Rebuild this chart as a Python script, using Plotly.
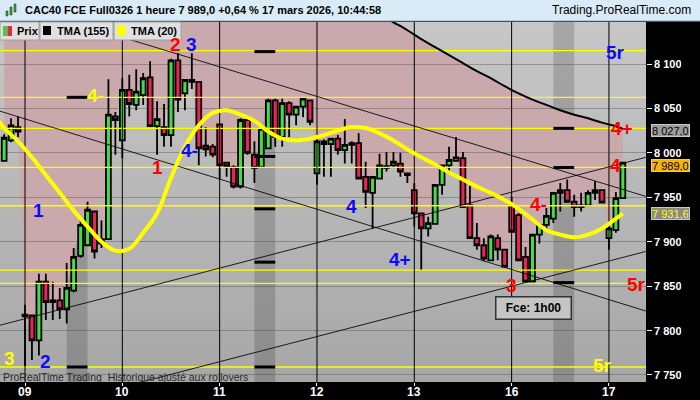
import base64
import plotly.graph_objects as go

FONT = "Liberation Sans, Arial, sans-serif"

# ---------------- data ----------------
day_labels = ["09", "10", "11", "12", "13", "16", "17"]
day_first_bar = [3, 17, 31, 45, 59, 73, 87]

opens = [7991, 8014, 8029,
         7818, 7817, 7789, 7855, 7832, 7834, 7824, 7845, 7884, 7896, 7934, 7898, 7903, 8041,
         8014, 8071, 8054, 8065, 8085, 8030, 8029, 8020, 8104, 8067, 8082, 8080, 8008, 8007,
         8032, 7989, 7984, 7962, 8037, 7998, 7984, 8005, 8059, 8018, 8056, 8043, 8052, 8059,
         7977, 8013, 8010, 8016, 8003, 8009, 8011, 7973, 7955, 7971, 7983, 7986, 7988, 7977,
         7958, 7932, 7915, 7920, 7964, 7986, 7991, 7994, 7941, 7904, 7896, 7879, 7904, 7891,
         7941, 7930, 7883, 7855, 7908, 7919, 7926, 7955, 7958, 7945, 7939, 7941, 7955, 7958,
         7904, 7913, 7949]
highs = [8021, 8039, 8041,
         7829, 7818, 7864, 7864, 7855, 7848, 7876, 7893, 7925, 7945, 7935, 7924, 8083, 8046,
         8084, 8088, 8094, 8090, 8103, 8058, 8055, 8106, 8112, 8083, 8112, 8081, 8029, 8010,
         8033, 7989, 7986, 8039, 8039, 8013, 8028, 8061, 8061, 8061, 8058, 8052, 8061, 8060,
         8020, 8015, 8017, 8020, 8038, 8013, 8022, 7990, 7973, 7999, 8001, 8001, 8000, 7978,
         7966, 7932, 7928, 7965, 7987, 8007, 8018, 8001, 7963, 7921, 7904, 7908, 7908, 7891,
         7951, 7932, 7894, 7908, 7921, 7938, 7955, 7966, 7970, 7953, 7955, 7958, 7968, 7958,
         7921, 7956, 7990]
lows = [7990, 8012, 8018,
        7759, 7767, 7772, 7812, 7812, 7813, 7808, 7843, 7882, 7895, 7881, 7893, 7902, 7998,
        7994, 8041, 8048, 8054, 8030, 7998, 8007, 8007, 8046, 8048, 8072, 7986, 7996, 7995,
        7970, 7973, 7960, 7960, 7998, 7966, 7983, 8005, 8007, 8007, 8018, 8031, 8040, 8031,
        7964, 7973, 7973, 7998, 7988, 7988, 7970, 7938, 7915, 7970, 7979, 7983, 7973, 7966,
        7917, 7868, 7906, 7919, 7953, 7979, 7990, 7939, 7903, 7891, 7878, 7878, 7879, 7871,
        7911, 7879, 7855, 7855, 7898, 7911, 7921, 7934, 7945, 7928, 7934, 7941, 7947, 7943,
        7891, 7910, 7948]
closes = [8017, 8031, 8024,
          7816, 7789, 7855, 7832, 7834, 7824, 7848, 7883, 7919, 7936, 7889, 7903, 8043, 8037,
          8071, 8055, 8069, 8084, 8030, 8038, 8020, 8104, 8060, 8082, 8080, 8005, 8004, 7998,
          7986, 7985, 7962, 8037, 8000, 7983, 8027, 8059, 8018, 8056, 8043, 8052, 8061, 8035,
          8013, 8010, 8016, 8003, 8009, 8011, 7971, 7956, 7973, 7986, 7985, 7990, 7979, 7975,
          7932, 7915, 7921, 7964, 7986, 7992, 7995, 7939, 7904, 7896, 7881, 7906, 7891, 7872,
          7911, 7879, 7855, 7908, 7919, 7929, 7955, 7958, 7945, 7939, 7941, 7955, 7958, 7944,
          7915, 7949, 7989]
bars = list(range(len(closes)))

# TMA (155) - visible part only (earlier bars above the chart)
tma155_bars = [54, 56, 58, 60, 62, 64, 66, 68, 70, 72, 74, 76, 78, 80, 82, 84, 86, 88, 89]
tma155_vals = [8156, 8147, 8138, 8128, 8119, 8110, 8101, 8092, 8084, 8075, 8067, 8060,
               8054, 8048, 8043, 8039, 8034, 8030, 8027.0]

# TMA (20)
tma20_bars = [-1, 0, 2, 4, 6, 8, 10, 12, 14, 16, 18, 20, 22, 24, 26, 28, 30, 32, 34, 36, 38,
              40, 42, 44, 46, 48, 50, 52, 54, 56, 58, 60, 62, 64, 66, 68, 70, 72, 74, 76, 78,
              80, 82, 84, 86, 88, 89]
tma20_vals = [8038, 8028, 8013, 7995, 7975, 7955, 7935, 7917, 7900, 7890, 7892, 7910, 7932,
              7972, 8007, 8031, 8045, 8048, 8043, 8036, 8024, 8016, 8014, 8016, 8020, 8025,
              8029, 8028, 8022, 8014, 8004, 7995, 7987, 7978, 7970, 7962, 7955, 7947, 7937,
              7925, 7913, 7908, 7905, 7908, 7915, 7926, 7931.6]

# pivot levels (yellow horizontals)
pivot_levels = [8115, 8062.5, 8027.6, 7983.7, 7940.5, 7868, 7853, 7759]

# trend lines: (bar0, price0, bar1, price1)
trend_lines = [(-0.6, 8172, 92.3, 7951),
               (-0.6, 8047, 92.3, 7822),
               (-0.6, 7806, 92.3, 7995),
               (-0.6, 7701, 92.3, 7889)]

# shaded sessions and their level markers
bands = [(9, 12), (36, 39), (79, 82)]
band_markers = [[8062.5, 7759], [8114, 7996, 7937, 7877, 7759], [8027.6, 7983.5, 7854]]

# pivot labels: text, bar, price, colour
pivot_labels = [("3", 0.84, 7769, "#ffff00"), ("2", 5.9, 7766, "#0a0aff"),
                ("1", 4.9, 7936, "#0a0aff"), ("4-", 13.1, 8065, "#ffff00"),
                ("1", 22.0, 7984, "#ff0000"), ("2", 24.7, 8122, "#ff0000"),
                ("3", 27.0, 8122, "#0a0aff"), ("4-", 26.7, 8003, "#0a0aff"),
                ("4", 50.0, 7940, "#0a0aff"), ("4+", 56.9, 7881, "#0a0aff"),
                ("3", 73.0, 7851, "#ff0000"), ("4-", 76.8, 7942, "#ff0000"),
                ("4", 87.9, 7986, "#ff0000"), ("4+", 88.9, 8028, "#ff0000"),
                ("5r", 87.9, 8113, "#0a0aff"), ("5r", 90.9, 7852, "#ff0000"),
                ("5r", 86.1, 7761, "#ffff00")]

y_ticks = [7750, 7800, 7850, 7900, 7950, 8000, 8050, 8100]

# ---------------- layout constants ----------------
X_RANGE = [-0.596, 92.33]
Y_RANGE = [7742.1, 8147.3]
CEIL = 8300
PW, PH, PT = 646, 360, 22   # plot width / height / top in px


def fr(v, dec=1):
    s = f"{v:,.{dec}f}"
    return s.replace(",", " ").replace(".", ",")


fig = go.Figure()

# ---- below-trace decorations (shapes) ----
shapes = []
# pink zone between price and TMA(155)
upper = [(bars[0], CEIL)] + list(zip(tma155_bars, tma155_vals))
lower = list(zip(bars, closes))[::-1]
pts = upper + lower
path = "M " + " L ".join(f"{x},{y}" for x, y in pts) + " Z"
shapes.append(dict(type="path", xref="x", yref="y", path=path, layer="below",
                   fillcolor="#c9a9ac", line=dict(width=0)))
for b0, b1 in bands:
    shapes.append(dict(type="rect", xref="x", yref="paper", x0=b0, x1=b1, y0=0, y1=1,
                       layer="below", fillcolor="rgba(0,0,0,0.16)", line=dict(width=0)))

# gradient grey background as image
svg = ("<svg xmlns='http://www.w3.org/2000/svg' width='10' height='100' viewBox='0 0 10 100' "
       "preserveAspectRatio='none'><defs><linearGradient id='g' x1='0' y1='0' x2='0' y2='1'>"
       "<stop offset='0' stop-color='#c7c7c7'/><stop offset='1' stop-color='#a7a7a7'/>"
       "</linearGradient></defs><rect width='10' height='100' fill='url(#g)'/></svg>")
bg_src = "data:image/svg+xml;base64," + base64.b64encode(svg.encode()).decode()

# candles
fig.add_trace(go.Candlestick(
    x=bars, open=opens, high=highs, low=lows, close=closes,
    increasing=dict(fillcolor="#44dd44", line=dict(color="black", width=1.8)),
    decreasing=dict(fillcolor="#ee2255", line=dict(color="black", width=1.8)),
    whiskerwidth=0, showlegend=False))

# pivot levels
px_, py_ = [], []
for lv in pivot_levels:
    px_ += [X_RANGE[0] - 1, X_RANGE[1] + 1, None]
    py_ += [lv, lv, None]
fig.add_trace(go.Scatter(x=px_, y=py_, mode="lines", line=dict(color="#ffff00", width=1.3),
                         hoverinfo="skip", showlegend=False))

# band markers
mx, my = [], []
for (b0, b1), levels in zip(bands, band_markers):
    for lv in levels:
        mx += [b0, b1, None]
        my += [lv, lv, None]
fig.add_trace(go.Scatter(x=mx, y=my, mode="lines", line=dict(color="black", width=3),
                         hoverinfo="skip", showlegend=False))

# day separators
vx, vy = [], []
for d in day_first_bar:
    vx += [d, d, None]
    vy += [Y_RANGE[0] - 50, CEIL, None]
fig.add_trace(go.Scatter(x=vx, y=vy, mode="lines", line=dict(color="black", width=1),
                         hoverinfo="skip", showlegend=False))

# trend lines
tx, ty = [], []
for b0, p0, b1, p1 in trend_lines:
    tx += [b0, b1, None]
    ty += [p0, p1, None]
fig.add_trace(go.Scatter(x=tx, y=ty, mode="lines", line=dict(color="rgba(0,0,0,0.85)", width=1),
                         hoverinfo="skip", showlegend=False))

# TMA(155)
fig.add_trace(go.Scatter(x=tma155_bars, y=tma155_vals, mode="lines",
                         line=dict(color="black", width=2, shape="spline"),
                         hoverinfo="skip", showlegend=False))

# TMA(20)
fig.add_trace(go.Scatter(x=tma20_bars, y=tma20_vals, mode="lines",
                         line=dict(color="#ffff00", width=4, shape="spline"),
                         hoverinfo="skip", showlegend=False))

annotations = []
for txt, b, p, col in pivot_labels:
    annotations.append(dict(x=b, y=p, xref="x", yref="y", text=txt, showarrow=False,
                            borderpad=0, height=14,
                            font=dict(family=FONT, size=19, color=col, weight="bold")))

annotations.append(dict(x=76.1, y=7825.4, xref="x", yref="y", text="Fce: 1h00", showarrow=False,
                        font=dict(family=FONT, size=12, color="black", weight="bold"),
                        bgcolor="#c4c4c4", bordercolor="#333333", borderwidth=1.5,
                        borderpad=2, width=70, height=17))

# y tick labels
for t in y_ticks:
    annotations.append(dict(x=1 + 7 / PW, y=t, xref="paper", yref="y", xanchor="left",
                            yanchor="middle", text=fr(t, 0), showarrow=False, height=10,
                            borderpad=0,
                            font=dict(family=FONT, size=11, color="white", weight="bold")))
# x tick labels
for d, lab in zip(day_first_bar, day_labels):
    annotations.append(dict(x=d, y=-10 / PH, xref="x", yref="paper", xanchor="center",
                            yanchor="middle", text=lab, showarrow=False,
                            font=dict(family=FONT, size=12, color="white", weight="bold")))

# right side value boxes (value, background, text colour, vertical nudge px)
right_boxes = [(tma155_vals[-1], "#9c9c9c", "black", -2),
               (closes[-1], "#f7b500", "black", -3),
               (tma20_vals[-1], "#8a8a8a", "#ffff00", 0)]
for v, bg, fc, ys in right_boxes:
    annotations.append(dict(x=1 + 5 / PW, y=v, xref="paper", yref="y", xanchor="left",
                            yanchor="middle", text=fr(v), showarrow=False, bgcolor=bg,
                            bordercolor="#c8c8c8", borderwidth=1, borderpad=0, height=11,
                            yshift=ys, font=dict(family=FONT, size=11, color=fc)))

# header
annotations.append(dict(x=23 / PW, y=(PH + PT - 10) / PH, xref="paper", yref="paper",
                        xanchor="left", yanchor="middle", showarrow=False,
                        text="CAC40 FCE Full0326 1 heure 7 989,0 +0,64 % 17 mars 2026, 10:44:58",
                        font=dict(family=FONT, size=11, color="black", weight="bold")))
annotations.append(dict(x=693 / PW, y=(PH + PT - 10) / PH, xref="paper", yref="paper",
                        xanchor="right", yanchor="middle", showarrow=False,
                        text="Trading.ProRealTime.com",
                        font=dict(family=FONT, size=12, color="black")))
# legend texts
for txt, xpx in [("Prix", 16), ("TMA (155)", 56), ("TMA (20)", 130)]:
    annotations.append(dict(x=xpx / PW, y=(PH + PT - 31) / PH, xref="paper", yref="paper",
                            xanchor="left", yanchor="middle", showarrow=False, text=txt,
                            height=12, borderpad=0,
                            font=dict(family=FONT, size=11, color="black", weight="bold")))
# bottom note
annotations.append(dict(x=2 / PW, y=(PH + PT - 376) / PH, xref="paper", yref="paper",
                        xanchor="left", yanchor="middle", showarrow=False,
                        text="ProRealTime Trading  Historique ajusté aux rollovers",
                        height=11, borderpad=0,
                        font=dict(family=FONT, size=10.5, color="#2a2a2a")))


def pbox(x0, y0, x1, y1, fill, line=None, lw=1):
    return dict(type="rect", xref="paper", yref="paper", layer="above",
                x0=x0 / PW, x1=x1 / PW, y0=(PH + PT - y0) / PH, y1=(PH + PT - y1) / PH,
                fillcolor=fill, line=dict(color=line or fill, width=lw if line else 0))


shapes += [
    pbox(-2, 21, 702, -2, "#d9ebf6", "#8ea3b3", 1),
    pbox(0, 40, 39, 22, "#e0e0e0", "#a0a0a0", 1),
    pbox(40, 40, 113, 22, "#e0e0e0", "#a0a0a0", 1),
    pbox(114, 40, 181, 22, "#e0e0e0", "#a0a0a0", 1),
    pbox(3, 36, 7.5, 26, "#44cc44"),
    pbox(7.5, 36, 12, 26, "#ee2244"),
    pbox(43, 35, 51, 26, "#000000"),
    pbox(117, 35, 126, 26, "#ffff00"),
    # small candlestick icon
    pbox(6, 16, 8, 11, "#33aa33", "#222222", 0.5),
    pbox(10, 15, 12, 7, "#33aa33", "#222222", 0.5),
    pbox(14, 12, 16, 4, "#33aa33", "#222222", 0.5),
]

fig.update_layout(
    width=700, height=400, margin=dict(l=0, r=54, t=22, b=18, autoexpand=False),
    paper_bgcolor="black", plot_bgcolor="#b8b8b8",
    font=dict(family=FONT), hovermode=False, showlegend=False,
    boxgap=0.3, boxgroupgap=0,
    annotations=annotations, shapes=shapes,
    images=[dict(source=bg_src, xref="paper", yref="paper", x=0, y=1, sizex=1, sizey=1,
                 xanchor="left", yanchor="top", sizing="stretch", layer="below")],
    xaxis=dict(range=X_RANGE, tickvals=day_first_bar, showticklabels=False,
               showgrid=False, zeroline=False, ticks="outside", ticklen=3,
               tickcolor="white", automargin=False,
               rangeslider=dict(visible=False), fixedrange=True),
    yaxis=dict(range=Y_RANGE, side="right", tickvals=y_ticks, showticklabels=False,
               showgrid=True, gridcolor="rgba(60,60,60,0.35)", gridwidth=1, zeroline=False,
               ticks="outside", ticklen=5, tickcolor="white", automargin=False,
               fixedrange=True),
)

fig.write_html("out.html", config={"displayModeBar": False},
               post_script="document.body.style.margin='0';document.body.style.padding='0';")
